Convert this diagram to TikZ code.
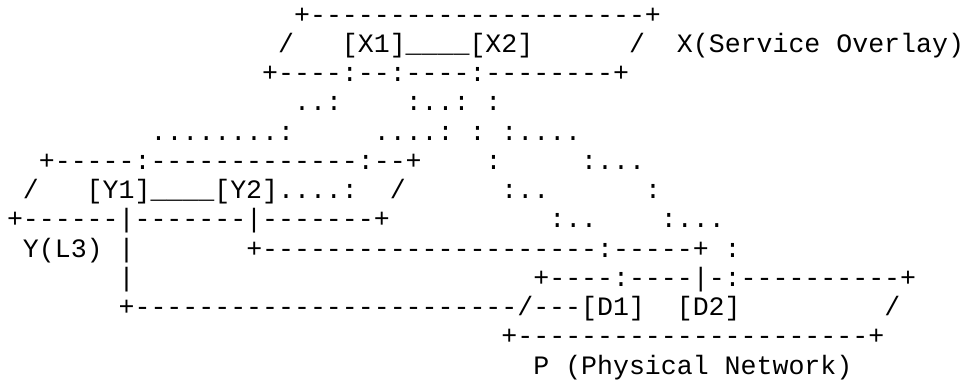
\documentclass[tikz,border=0pt]{standalone}
\usepackage{fontspec}
\setmonofont{Liberation Mono}
\usetikzlibrary{positioning}
\newcommand{\asciifont}{\ttfamily\fontsize{26.58}{29.23}\selectfont}
\tikzset{
  ascii/.style={
    anchor=base west,
    inner sep=0pt,
    outer sep=0pt,
    font=\asciifont,
  },
}
\frenchspacing

\begin{document}
\begin{tikzpicture}[x=15.95pt,y=-29.23pt]

\useasboundingbox (-0.439,-0.797) rectangle (60.125,12.306);

% Service overlay X
\node[ascii] (xtop) at (18,0) {+---------------------+};
\node[ascii] (xnodes) at (17,1) {/~~~[X1]\_\_\_\_[X2]~~~~~~/};
\node[ascii] (xlabel) at (42,1) {X(Service~Overlay)};
\node[ascii] (xbot) at (16,2) {+----:--:----:--------+};

% mapping down from X
\node[ascii] (map3a) at (18,3) {..:};
\node[ascii] (map3b) at (25,3) {:..:~:};
\node[ascii] (map4a) at (9,4) {........:};
\node[ascii] (map4b) at (23,4) {....:~:~:....};

% L3 layer Y
\node[ascii] (ytop) at (2,5) {+-----:-------------:--+};
\node[ascii] (map5) at (30,5) {:~~~~~:...};
\node[ascii] (ynodes) at (1,6) {/~~~[Y1]\_\_\_\_[Y2]....:~~/};
\node[ascii] (map6) at (31,6) {:..~~~~~~:};
\node[ascii] (ybot) at (0,7) {+------|-------|-------+};
\node[ascii] (map7) at (34,7) {:..~~~~:...};
\node[ascii] (ylabel) at (1,8) {Y(L3)~|};
\node[ascii] (y2link) at (15,8) {+---------------------:-----+~:};
\node[ascii] (y1drop) at (7,9) {|};

% Physical network P
\node[ascii] (ptop) at (33,9) {+----:----|-:----------+};
\node[ascii] (y1link) at (7,10) {+------------------------/---[D1]~~[D2]~~~~~~~~~/};
\node[ascii] (pbot) at (31,11) {+----------------------+};
\node[ascii] (plabel) at (33,12) {P~(Physical~Network)};

\end{tikzpicture}
\end{document}
